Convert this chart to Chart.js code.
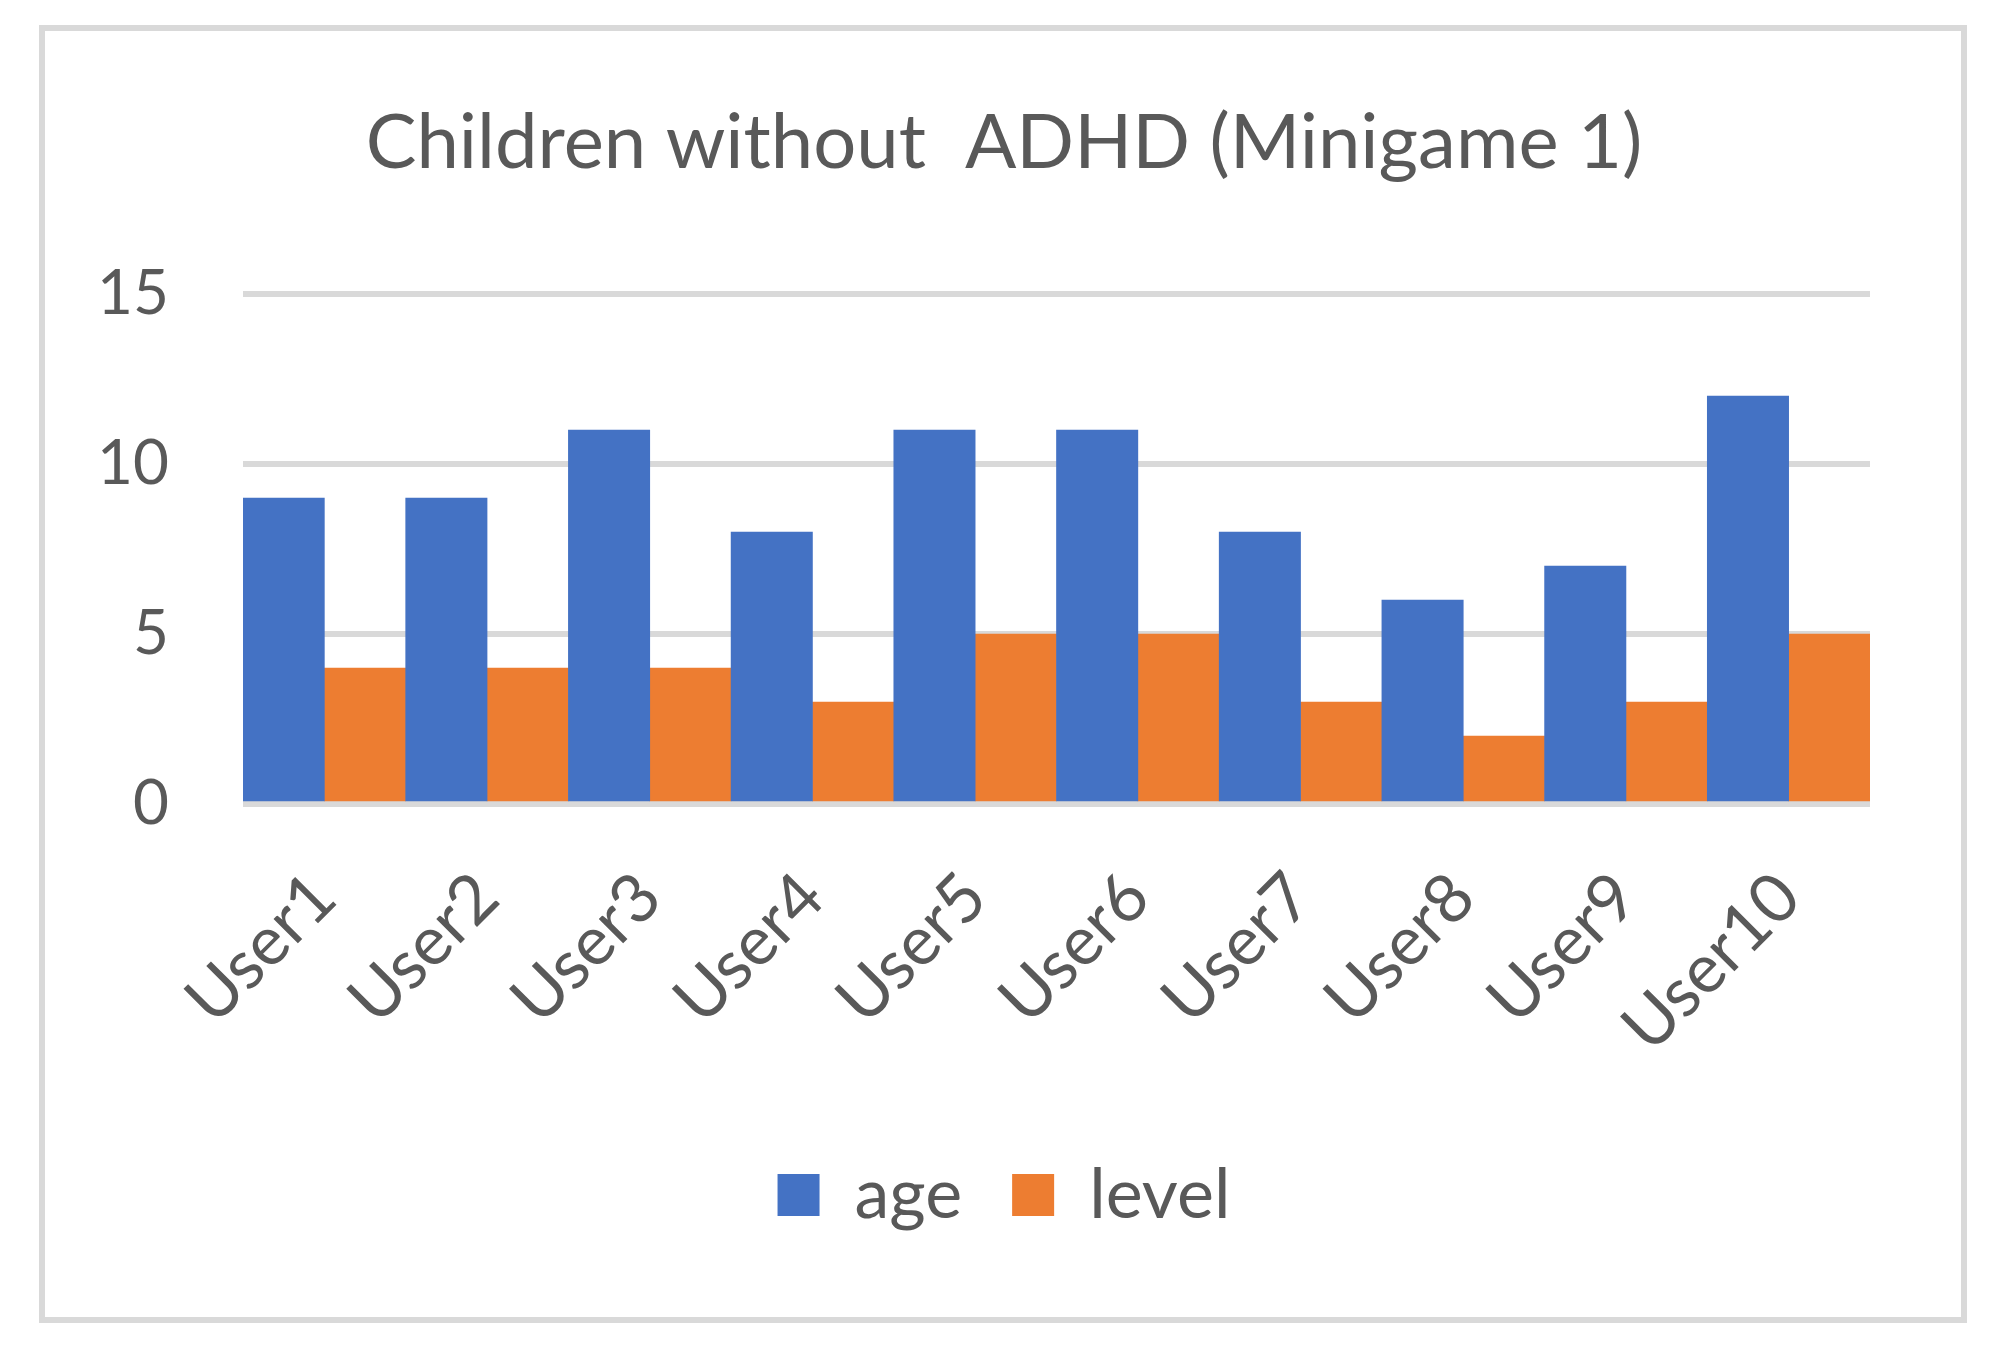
<!DOCTYPE html>
<html>
<head>
<meta charset="utf-8">
<script src="https://cdn.jsdelivr.net/npm/chart.js@4/dist/chart.umd.min.js"></script>
<style>
  html, body { margin: 0; padding: 0; background: #ffffff; }
  #wrap { width: 1994px; height: 1349px; position: relative; }
  canvas { display: block; }
</style>
</head>
<body>
<div id="wrap"><canvas id="c" width="1994" height="1349"></canvas></div>
<script>
const categories = ["User1", "User2", "User3", "User4", "User5", "User6", "User7", "User8", "User9", "User10"];
const ageValues = [9, 9, 11, 8, 11, 11, 8, 6, 7, 12];
const levelValues = [4, 4, 4, 3, 5, 5, 3, 2, 3, 5];
const seriesNames = ["age", "level"];
const titleText = "Children without  ADHD (Minigame 1)";
const yTicks = [0, 5, 10, 15];

const FONT = "Lato, 'Open Sans', sans-serif";
const TEXT = "#595959";
const GRID = "#D9D9D9";

const frame = {
  id: 'frame',
  beforeDraw(chart) {
    const ctx = chart.ctx;
    ctx.save();
    ctx.fillStyle = '#ffffff';
    ctx.fillRect(0, 0, chart.width, chart.height);
    ctx.strokeStyle = GRID;
    ctx.lineWidth = 6;
    ctx.strokeRect(42, 28, 1922, 1292);
    ctx.restore();
  }
};

Chart.defaults.font.family = FONT;
Chart.defaults.color = TEXT;

new Chart(document.getElementById('c'), {
  type: 'bar',
  data: {
    labels: categories,
    datasets: [
      { label: seriesNames[0], data: ageValues, backgroundColor: '#4472C4', borderWidth: 0,
        categoryPercentage: 1.0, barPercentage: 1.0 },
      { label: seriesNames[1], data: levelValues, backgroundColor: '#ED7D31', borderWidth: 0,
        categoryPercentage: 1.0, barPercentage: 1.0 }
    ]
  },
  options: {
    responsive: false,
    animation: false,
    devicePixelRatio: 1,
    layout: { padding: { top: 40, left: 14, right: 0, bottom: 109 } },
    plugins: {
      title: {
        display: true,
        text: titleText,
        color: TEXT,
        font: { family: FONT, size: 76, weight: 'normal' },
        padding: { top: 58, bottom: 105 }
      },
      legend: {
        display: true,
        position: 'bottom',
        labels: {
          color: TEXT,
          font: { family: FONT, size: 70 },
          boxWidth: 42,
          boxHeight: 42,
          padding: 50
        }
      },
      tooltip: { enabled: false }
    },
    scales: {
      x: {
        grid: { display: false, drawTicks: false },
        border: { display: false },
        ticks: {
          color: TEXT,
          font: { family: FONT, size: 68 },
          minRotation: 45,
          maxRotation: 45,
          autoSkip: false,
          padding: 53
        },
        afterFit(scale) { scale.height = 306; }
      },
      y: {
        min: 0,
        max: 15,
        afterBuildTicks(scale) { scale.ticks = yTicks.map(v => ({ value: v })); },
        grid: { color: GRID, lineWidth: 6, drawTicks: false },
        border: { display: false },
        ticks: {
          color: TEXT,
          font: { family: FONT, size: 62 },
          padding: 74
        },
        afterFit(scale) { scale.width = 229; }
      },
      yRightSpace: {
        position: 'right',
        min: 0,
        max: 15,
        grid: { display: false, drawTicks: false },
        border: { display: false },
        ticks: { display: false },
        afterFit(scale) { scale.width = 124; }
      }
    }
  },
  plugins: [frame]
});
</script>
</body>
</html>
